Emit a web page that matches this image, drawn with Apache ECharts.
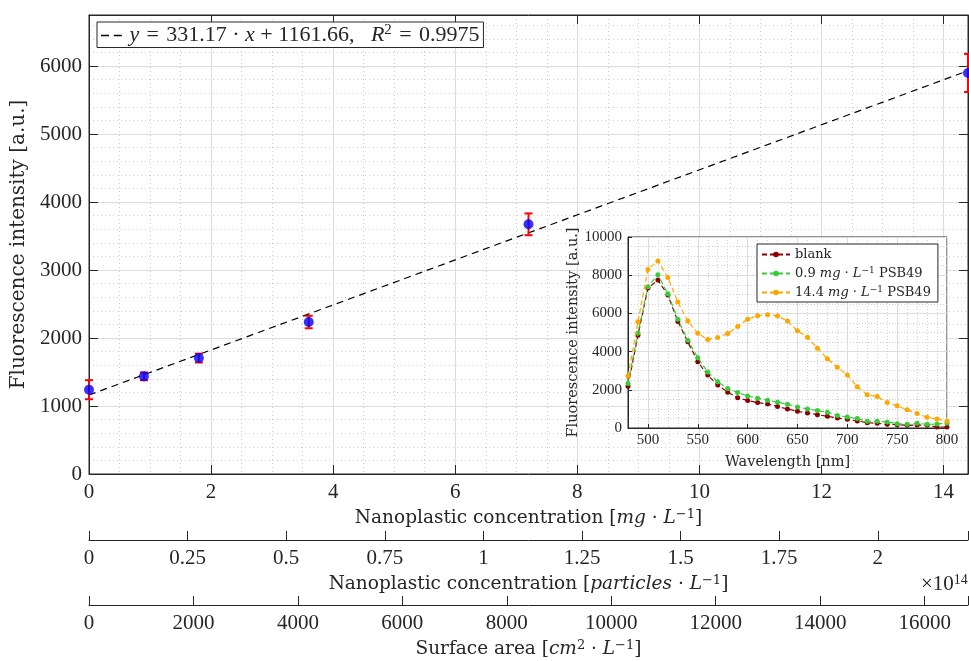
<!DOCTYPE html>
<html>
<head>
<meta charset="utf-8">
<script src="https://cdn.jsdelivr.net/npm/echarts@6/dist/echarts.min.js"></script>
<style>html,body{margin:0;padding:0;background:#fff}#c{width:969px;height:661px}</style>
</head>
<body>
<div id="c"></div>
<script>
// ---- main chart data ----
const concMg = [0, 0.9, 1.8, 3.6, 7.2, 14.4];
const intensity = [1240, 1436, 1705, 2235, 3672, 5898];
const intensityErr = [140, 57, 65, 92, 160, 280];
const fitX = [0, 14.4];
const fitY = [1161.66, 5930.51];
const fitLabel = '{i|y}\u2004=\u2004331.17\u2005·\u2005{i|x}\u2005+\u20051161.66,\u2002\u2005{i|R}{sup|2}\u2004=\u20040.9975';

// ---- secondary axes ----
const particlesMax = 2.2286;   // ×1e14 at 14.4 mg/L
const surfaceMax = 16830;      // cm²/L at 14.4 mg/L

// ---- inset data ----
const wavelength = [480,490,500,510,520,530,540,550,560,570,580,590,600,610,620,630,640,650,660,670,680,690,700,710,720,730,740,750,760,770,780,790,800];
const blank = [2190,4860,7330,7750,6960,5580,4510,3470,2770,2245,1877,1580,1440,1330,1260,1120,1000,877,790,700,614,526,456,368,280,245,193,175,140,158,140,53,53];
const psb09 = [2333,4980,7400,8020,7035,5700,4600,3680,2930,2420,2070,1860,1680,1560,1456,1350,1245,1105,1000,912,825,650,579,491,350,350,316,228,193,245,193,210,245];
const psb144 = [2720,5560,8300,8750,7880,6600,5600,4965,4630,4740,4950,5315,5700,5880,5930,5860,5600,5090,4750,4175,3630,3175,2770,2160,1740,1650,1330,1160,950,755,560,475,350];
const insetNames = ['blank', '0.9 mg L PSB49', '14.4 mg L PSB49'];
const insetTicks = [500, 550, 600, 650, 700, 750, 800];

const NUMF = 'Liberation Serif';
const TF = 'DejaVu Serif';
const TXT = '#262626';
const rich = (size, fam) => ({
  i: {fontFamily: fam, fontStyle: 'italic', fontSize: size, color: TXT},
  sup: {fontFamily: fam, fontSize: Math.round(size * 0.68), verticalAlign: 'top', color: TXT, padding: [0, 0, Math.round(size * 0.45), 0]},
  n: {fontFamily: fam, fontSize: size, color: TXT}
});

function mainXAxisBase() {
  return {
    type: 'value', gridIndex: 0,
    axisLine: {show: true, onZero: false, lineStyle: {color: TXT, width: 1}},
    axisTick: {show: true, inside: true, length: 9, lineStyle: {color: TXT}},
  };
}

const chart = echarts.init(document.getElementById('c'), null, {renderer: 'canvas'});

const option = {
  animation: false,
  backgroundColor: '#fff',
  textStyle: {fontFamily: NUMF, color: TXT},
  grid: [
    {left: 89, top: 15, width: 879, height: 459, show: true, borderColor: TXT, borderWidth: 1,
      backgroundColor: 'transparent', outerBoundsMode: 'none', containLabel: false},
    {left: 628, top: 237, width: 319, height: 191, show: true, borderColor: TXT, borderWidth: 1,
      backgroundColor: '#fff', z: 10, outerBoundsMode: 'none', containLabel: false}
  ],
  legend: [
    {
      data: [{name: 'fit', icon: 'path://M0,0h10v2h-10z M16,0h10v2h-10z'}], left: 97, top: 22, orient: 'horizontal',
      backgroundColor: '#fff', borderColor: TXT, borderWidth: 1, borderRadius: 0,
      padding: [1, 4, 1, 4], itemWidth: 26, itemHeight: 1.6, itemGap: 0, z: 20,
      itemStyle: {color: '#000'},
      formatter: () => fitLabel,
      textStyle: {fontFamily: NUMF, fontSize: 22, color: TXT, rich: rich(22, NUMF)}
    },
    {
      data: insetNames, left: 757, top: 244, orient: 'vertical',
      backgroundColor: '#fff', borderColor: TXT, borderWidth: 1, borderRadius: 0,
      padding: [4, 7, 3, 4], itemGap: 5, itemWidth: 28, itemHeight: 7, z: 20,
      formatter: (name) => {
        if (name === 'blank') return 'blank';
        const c = name.split(' ')[0];
        return c + ' {i|mg} · {i|L}{sup|−1} PSB49';
      },
      textStyle: {fontFamily: TF, fontSize: 13, color: TXT, rich: rich(13, TF)}
    }
  ],
  xAxis: [
    Object.assign(mainXAxisBase(), {
      position: 'bottom', min: 0, max: 14.4, interval: 2,
      axisLabel: {fontSize: 21, color: TXT, margin: 8, fontFamily: NUMF,
        formatter: v => (Math.abs(v / 2 - Math.round(v / 2)) < 1e-9 ? String(v) : '')},
      splitLine: {show: true, lineStyle: {color: '#dcdcdc', width: 1}},
      minorTick: {show: false, splitNumber: 4},
      minorSplitLine: {show: true, lineStyle: {color: '#cdcdcd', type: [1, 3], width: 1}},
      name: 'Nanoplastic concentration [{i|mg} · {i|L}{sup|−1}]', nameLocation: 'middle', nameGap: 34,
      nameTextStyle: {fontFamily: TF, fontSize: 18.5, color: TXT, rich: rich(18.5, TF)}
    }),
    Object.assign(mainXAxisBase(), {
      position: 'bottom', offset: 66, min: 0, max: particlesMax, interval: 0.25,
      axisLabel: {fontSize: 21, color: TXT, margin: 8, fontFamily: NUMF,
        formatter: v => (Math.abs(v / 0.25 - Math.round(v / 0.25)) < 1e-9 ? String(v) : '')},
      splitLine: {show: false},
      name: 'Nanoplastic concentration [{i|particles} · {i|L}{sup|−1}]', nameLocation: 'middle', nameGap: 34,
      nameTextStyle: {fontFamily: TF, fontSize: 18.5, color: TXT, rich: rich(18.5, TF)}
    }),
    Object.assign(mainXAxisBase(), {
      position: 'bottom', offset: 131, min: 0, max: surfaceMax, interval: 2000,
      axisLabel: {fontSize: 21, color: TXT, margin: 8, fontFamily: NUMF,
        formatter: v => (v % 2000 === 0 ? String(v) : '')},
      splitLine: {show: false},
      name: 'Surface area [{i|cm}{sup|2} · {i|L}{sup|−1}]', nameLocation: 'middle', nameGap: 32,
      nameTextStyle: {fontFamily: TF, fontSize: 18.5, color: TXT, rich: rich(18.5, TF)}
    }),
    Object.assign(mainXAxisBase(), {
      position: 'top', min: 0, max: 14.4, interval: 2,
      axisLabel: {show: false}, splitLine: {show: false}
    }),
    {
      type: 'value', gridIndex: 1, position: 'bottom', min: 480, max: 800, splitNumber: 6, z: 11,
      axisLine: {show: true, onZero: false, lineStyle: {color: TXT}},
      axisTick: {show: true, inside: true, length: 4, lineStyle: {color: TXT}, customValues: insetTicks},
      axisLabel: {fontSize: 15, color: TXT, margin: 5, fontFamily: NUMF, customValues: insetTicks,
        formatter: v => (v % 50 === 0 ? String(v) : '')},
      splitLine: {show: true, lineStyle: {color: '#dcdcdc'}},
      minorTick: {show: false, splitNumber: 5},
      minorSplitLine: {show: true, lineStyle: {color: '#d0d0d0', type: [1, 2]}},
      name: 'Wavelength [nm]', nameLocation: 'middle', nameGap: 27,
      nameTextStyle: {fontFamily: TF, fontSize: 14.5, color: TXT}
    }
  ],
  yAxis: [
    {
      type: 'value', gridIndex: 0, position: 'left', min: 0, max: 6750, interval: 1000,
      axisLine: {show: true, onZero: false, lineStyle: {color: TXT}},
      axisTick: {show: true, inside: true, length: 9, lineStyle: {color: TXT}},
      axisLabel: {fontSize: 21, color: TXT, margin: 7, fontFamily: NUMF,
        formatter: v => (v % 1000 === 0 ? String(v) : '')},
      splitLine: {show: true, lineStyle: {color: '#dcdcdc'}},
      minorTick: {show: false, splitNumber: 5},
      minorSplitLine: {show: true, lineStyle: {color: '#cdcdcd', type: [1, 3]}},
      name: 'Fluorescence intensity [a.u.]', nameLocation: 'middle', nameGap: 53,
      nameTextStyle: {fontFamily: TF, fontSize: 20, color: TXT}
    },
    {
      type: 'value', gridIndex: 0, position: 'right', min: 0, max: 6750, interval: 1000,
      axisLine: {show: true, onZero: false, lineStyle: {color: TXT}},
      axisTick: {show: true, inside: true, length: 9, lineStyle: {color: TXT}},
      axisLabel: {show: false}, splitLine: {show: false}
    },
    {
      type: 'value', gridIndex: 1, position: 'left', min: 0, max: 10000, interval: 2000, z: 11,
      axisLine: {show: true, onZero: false, lineStyle: {color: TXT}},
      axisTick: {show: true, inside: true, length: 4, lineStyle: {color: TXT}},
      axisLabel: {fontSize: 15, color: TXT, margin: 6, fontFamily: NUMF, formatter: v => String(v)},
      splitLine: {show: true, lineStyle: {color: '#dcdcdc'}},
      minorTick: {show: false, splitNumber: 4},
      minorSplitLine: {show: true, lineStyle: {color: '#d0d0d0', type: [1, 2]}},
      name: 'Fluorescence intensity [a.u.]', nameLocation: 'middle', nameGap: 47,
      nameTextStyle: {fontFamily: TF, fontSize: 14.5, color: TXT}
    }
  ],
  graphic: [
    {type: 'text', left: 921, top: 573, z: 20,
      style: {text: '×10{sup|14}', fontFamily: NUMF, fontSize: 21, fill: TXT,
        rich: {sup: {fontFamily: NUMF, fontSize: 14, fill: TXT, verticalAlign: 'top', padding: [0, 0, 9, 0]}}}}
  ],
  series: [
    {
      name: 'fit', type: 'line', xAxisIndex: 0, yAxisIndex: 0,
      data: fitX.map((x, i) => [x, fitY[i]]),
      showSymbol: false, symbol: 'none',
      lineStyle: {color: '#000', width: 1.2, type: [7, 5]}, itemStyle: {color: '#000'},
      z: 2
    },
    {
      name: 'errors', type: 'custom', xAxisIndex: 0, yAxisIndex: 0, clip: false, z: 3,
      data: concMg.map((x, i) => [x, intensity[i] - intensityErr[i], intensity[i] + intensityErr[i]]),
      encode: {x: 0, y: [1, 2]},
      renderItem: (params, api) => {
        const x = api.value(0);
        const lo = api.coord([x, api.value(1)]);
        const hi = api.coord([x, api.value(2)]);
        const hw = 4;
        const st = {stroke: '#ff0000', lineWidth: 2};
        return {type: 'group', children: [
          {type: 'line', shape: {x1: lo[0], y1: lo[1], x2: hi[0], y2: hi[1]}, style: st},
          {type: 'line', shape: {x1: lo[0] - hw, y1: lo[1], x2: lo[0] + hw, y2: lo[1]}, style: st},
          {type: 'line', shape: {x1: hi[0] - hw, y1: hi[1], x2: hi[0] + hw, y2: hi[1]}, style: st}
        ]};
      }
    },
    {
      name: 'measured', type: 'scatter', xAxisIndex: 0, yAxisIndex: 0, z: 4, clip: false,
      data: concMg.map((x, i) => [x, intensity[i]]),
      symbol: 'circle', symbolSize: 10, itemStyle: {color: '#0000ff'}
    },
    {
      name: insetNames[0], type: 'line', xAxisIndex: 4, yAxisIndex: 2, z: 12,
      data: wavelength.map((w, i) => [w, blank[i]]),
      symbol: 'circle', symbolSize: 5, showSymbol: true,
      lineStyle: {color: '#8b0000', width: 1.2, type: [5, 3]}, itemStyle: {color: '#8b0000'}
    },
    {
      name: insetNames[1], type: 'line', xAxisIndex: 4, yAxisIndex: 2, z: 13,
      data: wavelength.map((w, i) => [w, psb09[i]]),
      symbol: 'circle', symbolSize: 5, showSymbol: true,
      lineStyle: {color: '#38cc38', width: 1.2, type: [5, 3]}, itemStyle: {color: '#38cc38'}
    },
    {
      name: insetNames[2], type: 'line', xAxisIndex: 4, yAxisIndex: 2, z: 14,
      data: wavelength.map((w, i) => [w, psb144[i]]),
      symbol: 'circle', symbolSize: 5, showSymbol: true,
      lineStyle: {color: '#ffa500', width: 1.2, type: [5, 3]}, itemStyle: {color: '#ffa500'}
    }
  ]
};
chart.setOption(option);
</script>
</body>
</html>
